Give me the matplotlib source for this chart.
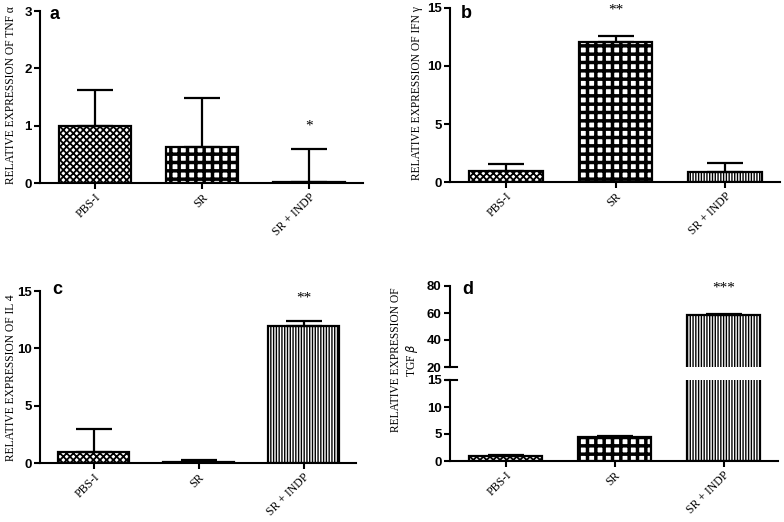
import matplotlib
matplotlib.use('Agg')
import matplotlib.pyplot as plt
import numpy as np

categories = ['PBS-I', 'SR', 'SR + INDP']
tnf_mean = [1.0, 0.63, 0.02]
tnf_err = [0.62, 0.85, 0.57]
ifn_mean = [0.97, 12.03, 0.82]
ifn_err = [0.58, 0.55, 0.8]
il4_mean = [0.97, 0.05, 11.97]
il4_err = [1.97, 0.2, 0.4]
tgf_mean = [0.9, 4.5, 58.3]
tgf_err = [0.25, 0.2, 0.9]

ylabels = ['RELATIVE EXPRESSION OF TNF α', 'RELATIVE EXPRESSION OF IFN γ',
           'RELATIVE EXPRESSION OF IL 4', 'RELATIVE EXPRESSION OF\nTGF $\\beta$']
stars = ['*', '**', '**', '***']
star_idx = [2, 1, 2, 2]

hatches = ['xxxxx', '++', '||||||']
hatch_lw = [1.3, 2.5, 1.0]

W, H = 784, 522
fig = plt.figure(figsize=(W / 100, H / 100), dpi=100)

def fx(px):
    return px / W

def fy(py):
    return 1 - py / H

def make_ax(l, r, b, t):
    return fig.add_axes([fx(l), fy(b), fx(r) - fx(l), fy(t) - fy(b)])

TICKFONT = dict(family='Liberation Sans', weight='bold', size=9.5)
SERIF = 'Liberation Serif'

def style(ax, show_x=True):
    for s in ['top', 'right']:
        ax.spines[s].set_visible(False)
    ax.spines['left'].set_linewidth(1.5)
    ax.spines['bottom'].set_linewidth(1.5)
    ax.tick_params(axis='both', direction='out', length=4, width=1.5, pad=2)
    for lab in ax.get_yticklabels():
        lab.set_fontfamily(TICKFONT['family'])
        lab.set_fontweight('bold')
        lab.set_fontsize(TICKFONT['size'])
    if show_x:
        ax.set_xticks(np.arange(len(categories)))
        ax.set_xticklabels(categories, rotation=45, ha='right', rotation_mode='anchor',
                           fontfamily=SERIF, fontsize=8.5)
    ax.set_xlim(-0.51, 2.5)

def draw_bars(ax, means, errs):
    x = np.arange(len(categories))
    for i in range(len(categories)):
        with plt.rc_context({'hatch.linewidth': hatch_lw[i]}):
            bars = ax.bar(x[i], means[i], width=0.67, facecolor='white', edgecolor='black',
                          linewidth=1.6, hatch=hatches[i], zorder=2)
            for b in bars:
                if hasattr(b, 'set_hatch_linewidth'):
                    b.set_hatch_linewidth(hatch_lw[i])
        ax.errorbar(x[i], means[i], yerr=[[0], [errs[i]]], fmt='none', ecolor='black',
                    elinewidth=1.6, capsize=13, capthick=1.6, zorder=3)

# panel a
axa = make_ax(40, 363, 183, 11)
draw_bars(axa, tnf_mean, tnf_err)
axa.set_ylim(0, 3)
axa.set_yticks([0, 1, 2, 3])
style(axa)
axa.text(star_idx[0], 1.0, stars[0], ha='center', va='center', fontsize=11, family=SERIF)

# panel b
axb = make_ax(450, 780, 182, 8)
draw_bars(axb, ifn_mean, ifn_err)
axb.set_ylim(0, 15)
axb.set_yticks([0, 5, 10, 15])
style(axb)
axb.text(star_idx[1], 14.8, stars[1], ha='center', va='center', fontsize=11, family=SERIF)

# panel c
axc = make_ax(40, 356, 463, 291)
draw_bars(axc, il4_mean, il4_err)
axc.set_ylim(0, 15)
axc.set_yticks([0, 5, 10, 15])
style(axc)
axc.text(star_idx[2], 14.4, stars[2], ha='center', va='center', fontsize=11, family=SERIF)

# panel d (broken axis)
axd_lo = make_ax(450, 778, 461, 380)
axd_hi = make_ax(450, 778, 367, 286)
draw_bars(axd_lo, tgf_mean, tgf_err)
draw_bars(axd_hi, tgf_mean, tgf_err)
axd_lo.set_ylim(0, 15)
axd_lo.set_yticks([0, 5, 10, 15])
axd_hi.set_ylim(20, 80)
axd_hi.set_yticks([20, 40, 60, 80])
style(axd_lo)
style(axd_hi, show_x=False)
axd_hi.spines['bottom'].set_visible(False)
axd_hi.tick_params(axis='x', bottom=False, labelbottom=False)
axd_hi.text(star_idx[3], 78.5, stars[3], ha='center', va='center', fontsize=11, family=SERIF)
for a_, yv in [(axd_hi, 0), (axd_lo, 1)]:
    a_.plot([-0.012, 0.02], [yv, yv], transform=a_.transAxes, color='black', lw=1.5,
            clip_on=False, zorder=5)

# y labels
fig.text(fx(11), fy(95), ylabels[0], rotation=90, ha='center', va='center', family=SERIF, fontsize=8.3)
fig.text(fx(417), fy(93), ylabels[1], rotation=90, ha='center', va='center', family=SERIF, fontsize=8.3)
fig.text(fx(11), fy(378), ylabels[2], rotation=90, ha='center', va='center', family=SERIF, fontsize=8.3)
fig.text(fx(405), fy(360), ylabels[3], rotation=90, ha='center', va='center', family=SERIF,
         fontsize=8.3, multialignment='center', linespacing=1.25)

# panel letters
for lbl, px, py in [('a', 50, 19), ('b', 461, 18), ('c', 52, 294), ('d', 462, 294)]:
    fig.text(fx(px), fy(py), lbl, ha='left', va='baseline', family='Liberation Sans',
             weight='bold', fontsize=13)

fig.savefig('out.png', dpi=100)
